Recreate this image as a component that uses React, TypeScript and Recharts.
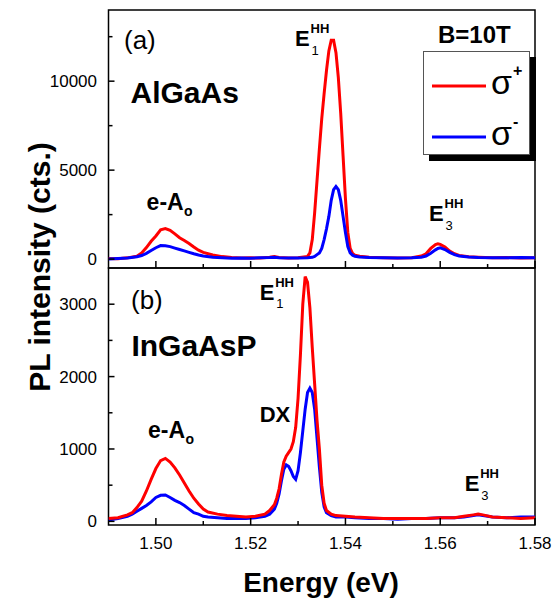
import React from 'react';
import { LineChart, Line, XAxis, YAxis, ReferenceArea, Legend } from 'recharts';

// ---- Panel (a): AlGaAs ----
const energyA = [
  1.490, 1.492, 1.494, 1.496, 1.497, 1.498, 1.499, 1.500, 1.501, 1.502,
  1.503, 1.504, 1.505, 1.506, 1.507, 1.508, 1.509, 1.510, 1.512, 1.514,
  1.516, 1.518, 1.520, 1.522, 1.524, 1.525, 1.526, 1.528, 1.530, 1.532,
  1.5325, 1.533, 1.5335, 1.534, 1.5345, 1.535, 1.5355, 1.536, 1.5365, 1.537,
  1.5375, 1.538, 1.5385, 1.539, 1.5395, 1.540, 1.5405, 1.541, 1.5415, 1.542,
  1.543, 1.545, 1.548, 1.551, 1.554, 1.556, 1.557, 1.558, 1.559, 1.5595,
  1.560, 1.561, 1.562, 1.563, 1.564, 1.566, 1.568, 1.571, 1.574, 1.577,
  1.580,
];
const sigmaPlusA = [
  30, 20, 70, 160, 350, 650, 1000, 1300, 1650, 1720,
  1620, 1420, 1200, 1050, 880, 680, 500, 380, 230, 140,
  90, 60, 70, 60, 100, 140, 90, 60, 70, 150,
  350, 1100, 2600, 4400, 6200, 7900, 9300, 10600, 11700, 12300,
  12300, 11600, 10200, 8200, 5800, 3400, 1500, 600, 320, 220,
  160, 110, 80, 60, 80, 170, 300, 600, 820, 860,
  830, 680, 450, 300, 210, 130, 100, 70, 90, 60,
  80,
];
const sigmaMinusA = [
  10, 30, 60, 130, 200, 320, 480, 640, 760, 750,
  700, 620, 540, 460, 380, 300, 230, 170, 100, 70,
  50, 60, 50, 70, 90, 110, 80, 60, 60, 80,
  90, 100, 150, 250, 350, 600, 1100, 1700, 2400, 3300,
  3900, 4080, 3900, 3300, 2400, 1500, 700, 350, 220, 160,
  120, 90, 70, 60, 70, 110, 170, 330, 520, 600,
  630, 540, 380, 250, 180, 120, 90, 80, 70, 90,
  70,
];

// ---- Panel (b): InGaAsP ----
const energyB = [
  1.490, 1.492, 1.494, 1.495, 1.496, 1.497, 1.498, 1.499, 1.500, 1.501,
  1.502, 1.503, 1.504, 1.505, 1.506, 1.507, 1.508, 1.509, 1.510, 1.511,
  1.513, 1.515, 1.517, 1.519, 1.521, 1.523, 1.524, 1.525, 1.5255, 1.526,
  1.5265, 1.527, 1.5275, 1.528, 1.5285, 1.529, 1.5295, 1.530, 1.5305, 1.531,
  1.5315, 1.532, 1.5325, 1.533, 1.5335, 1.534, 1.5345, 1.535, 1.5355, 1.536,
  1.537, 1.538, 1.540, 1.542, 1.545, 1.548, 1.551, 1.554, 1.557, 1.560,
  1.563, 1.565, 1.567, 1.568, 1.569, 1.571, 1.574, 1.577, 1.580,
];
const sigmaPlusB = [
  40, 50, 90, 120, 190, 280, 420, 580, 730, 840,
  870, 820, 740, 640, 530, 420, 320, 240, 170, 130,
  100, 80, 70, 60, 70, 100, 150, 230, 320, 450,
  650, 820, 900, 950, 1000, 1100, 1300, 1700, 2300, 3000,
  3380, 3300, 2950, 2400, 1900, 1400, 1000, 500, 250, 150,
  100, 80, 70, 60, 50, 40, 40, 40, 40, 50,
  50, 70, 90, 100, 90, 60, 50, 40, 50,
];
const sigmaMinusB = [
  20, 40, 70, 100, 140, 180, 220, 270, 330, 360,
  365, 330, 290, 260, 220, 170, 120, 100, 70, 60,
  50, 40, 40, 40, 50, 70, 100, 170, 250, 380,
  560, 720, 780, 760, 700, 620, 580, 700, 950, 1250,
  1550, 1780, 1840, 1780, 1550, 1150, 750, 400, 200, 120,
  80, 60, 60, 50, 40, 40, 30, 40, 40, 50,
  50, 60, 80, 90, 80, 60, 50, 60, 60,
];

// ---- Axes ----
const energyDomain = [1.49, 1.58];
const energyTicks = [1.50, 1.51, 1.52, 1.53, 1.54, 1.55, 1.56, 1.57, 1.58];
const energyLabelTicks = [1.50, 1.52, 1.54, 1.56, 1.58];
const intensityDomainA = [-500, 14000];
const intensityTicksA = [0, 2500, 5000, 7500, 10000, 12500];
const intensityLabelTicksA = [0, 5000, 10000];
const intensityDomainB = [-50, 3500];
const intensityTicksB = [0, 500, 1000, 1500, 2000, 2500, 3000];
const intensityLabelTicksB = [0, 1000, 2000, 3000];

const seriesNames = { plus: 'σ+', minus: 'σ-' };
const RED = '#ff0000';
const BLUE = '#0000ff';
const FONT = '"Liberation Sans", Arial, Helvetica, sans-serif';

const rowsA = energyA.map((e, i) => ({ e, plus: sigmaPlusA[i], minus: sigmaMinusA[i] }));
const rowsB = energyB.map((e, i) => ({ e, plus: sigmaPlusB[i], minus: sigmaMinusB[i] }));

const isIn = (list: number[], v: number) => list.some((l) => Math.abs(l - v) < 1e-6);

// Inward-pointing ticks on the bottom axis; labels only on the lower panel.
const makeEnergyTick = (showLabels: boolean) => (props: any) => {
  const { x, y, payload } = props;
  const v = payload.value as number;
  const major = isIn(energyLabelTicks, v);
  return (
    <g>
      <line x1={x} x2={x} y1={y} y2={y - (major ? 7 : 4)} stroke="#000" strokeWidth={1.5} />
      {showLabels && major && (
        <text x={x} y={y + 24} textAnchor="middle" fontSize={17} fontFamily={FONT} fill="#000">
          {v.toFixed(2)}
        </text>
      )}
    </g>
  );
};

// Inward-pointing ticks on the left axis with labels outside.
const makeIntensityTick = (labels: number[]) => (props: any) => {
  const { x, y, payload } = props;
  const v = payload.value as number;
  const major = isIn(labels, v);
  return (
    <g>
      <line x1={x} x2={x + (major ? 6 : 4)} y1={y} y2={y} stroke="#000" strokeWidth={1.5} />
      {major && (
        <text x={x - 11.5} y={y + 6} textAnchor="end" fontSize={17} fontFamily={FONT} fill="#000">
          {String(v)}
        </text>
      )}
    </g>
  );
};

const LegendBox = (props: any) => {
  const items = props.payload || [];
  return (
    <div
      style={{
        width: 107,
        height: 104,
        boxSizing: 'border-box',
        border: '1px solid #555',
        background: '#fff',
        boxShadow: '6px 6px 0 #000',
      }}
    >
      <svg width={105} height={102} style={{ display: 'block' }}>
        {items.map((it: any, i: number) => {
          const cy = 34 + i * 51;
          const label = String(it.value);
          return (
            <g key={label}>
              <line x1={8} x2={62} y1={cy} y2={cy} stroke={it.color} strokeWidth={3} />
              <text x={67} y={cy + 8} fontSize={34} fontFamily={FONT} fill="#000">
                {label.charAt(0)}
              </text>
              <text x={89} y={cy - 10} fontSize={16} fontWeight="bold" fontFamily={FONT} fill="#000">
                {label.slice(1)}
              </text>
            </g>
          );
        })}
      </svg>
    </div>
  );
};

// Peak label such as E with a subscript index and HH superscript.
const PeakLabel = ({ x, y, sub }: { x: number; y: number; sub: string }) => (
  <g fontFamily={FONT} fill="#000">
    <text x={x} y={y} fontSize={22} fontWeight="bold">E</text>
    <text x={x + 15.5} y={y - 13} fontSize={13} fontWeight="bold">HH</text>
    <text x={x + 16.5} y={y + 8.5} fontSize={13}>{sub}</text>
  </g>
);

const AcceptorLabel = ({ x, y }: { x: number; y: number }) => (
  <g fontFamily={FONT} fill="#000" fontWeight="bold">
    <text x={x} y={y} fontSize={23}>e-A</text>
    <text x={x + 37.5} y={y + 5.5} fontSize={14}>o</text>
  </g>
);

export default function App() {
  return (
    <div style={{ position: 'absolute', left: 0, top: 0, width: 554, height: 602, background: '#fff' }}>
      <div style={{ position: 'absolute', left: 0, top: 0 }}>
        <LineChart width={554} height={270} data={rowsA} margin={{ top: 10, right: 19, bottom: 0, left: 0 }}>
          <XAxis
            dataKey="e"
            type="number"
            domain={energyDomain}
            allowDataOverflow
            ticks={energyTicks}
            interval={0}
            height={2}
            axisLine={false}
            tickLine={false}
            tickSize={0}
            tickMargin={0}
            tick={makeEnergyTick(false)}
          />
          <YAxis
            type="number"
            domain={intensityDomainA}
            allowDataOverflow
            ticks={intensityTicksA}
            interval={0}
            width={108.5}
            axisLine={false}
            tickLine={false}
            tickSize={0}
            tickMargin={0}
            tick={makeIntensityTick(intensityLabelTicksA)}
          />
          <Line
            dataKey="plus"
            name={seriesNames.plus}
            type="linear"
            stroke={RED}
            strokeWidth={3}
            dot={false}
            isAnimationActive={false}
          />
          <Line
            dataKey="minus"
            name={seriesNames.minus}
            type="linear"
            stroke={BLUE}
            strokeWidth={3}
            dot={false}
            isAnimationActive={false}
          />
          <ReferenceArea
            x1={energyDomain[0]}
            x2={energyDomain[1]}
            y1={intensityDomainA[0]}
            y2={intensityDomainA[1]}
            fill="none"
            stroke="#000"
            strokeWidth={1.5}
          />
          <Legend
            layout="horizontal"
            verticalAlign="middle"
            align="center"
            content={LegendBox}
            wrapperStyle={{ left: 423, top: 51, width: 107, height: 104 }}
          />
        </LineChart>
      </div>

      <div style={{ position: 'absolute', left: 0, top: 266 }}>
        <LineChart width={554} height={336} data={rowsB} margin={{ top: 2, right: 19, bottom: 0, left: 0 }}>
          <XAxis
            dataKey="e"
            type="number"
            domain={energyDomain}
            allowDataOverflow
            ticks={energyTicks}
            interval={0}
            height={77}
            axisLine={false}
            tickLine={false}
            tickSize={0}
            tickMargin={0}
            tick={makeEnergyTick(true)}
          />
          <YAxis
            type="number"
            domain={intensityDomainB}
            allowDataOverflow
            ticks={intensityTicksB}
            interval={0}
            width={108.5}
            axisLine={false}
            tickLine={false}
            tickSize={0}
            tickMargin={0}
            tick={makeIntensityTick(intensityLabelTicksB)}
          />
          <Line
            dataKey="minus"
            name={seriesNames.minus}
            type="linear"
            stroke={BLUE}
            strokeWidth={3}
            dot={false}
            isAnimationActive={false}
          />
          <Line
            dataKey="plus"
            name={seriesNames.plus}
            type="linear"
            stroke={RED}
            strokeWidth={3}
            dot={false}
            isAnimationActive={false}
          />
          <ReferenceArea
            x1={energyDomain[0]}
            x2={energyDomain[1]}
            y1={intensityDomainB[0]}
            y2={intensityDomainB[1]}
            fill="none"
            stroke="#000"
            strokeWidth={1.5}
          />
        </LineChart>
      </div>

      <svg
        width={554}
        height={602}
        style={{ position: 'absolute', left: 0, top: 0, pointerEvents: 'none' }}
      >
        <g fontFamily={FONT} fill="#000">
          {/* panel (a) */}
          <text x={124} y={49} fontSize={26}>(a)</text>
          <text x={130.5} y={102.5} fontSize={30} fontWeight="bold">AlGaAs</text>
          <text x={438} y={42.5} fontSize={24} fontWeight="bold">B=10T</text>
          {/* panel (b) */}
          <text x={131} y={309} fontSize={26}>(b)</text>
          <text x={131.4} y={356} fontSize={30} fontWeight="bold">InGaAsP</text>
          <text x={259.7} y={422} fontSize={22} fontWeight="bold">DX</text>
          {/* axis titles */}
          <text
            x={50}
            y={267}
            transform="rotate(-90 50 267)"
            textAnchor="middle"
            fontSize={30}
            fontWeight="bold"
          >
            PL intensity (cts.)
          </text>
          <text x={321} y={592} textAnchor="middle" fontSize={28} fontWeight="bold">
            Energy (eV)
          </text>
        </g>
        <PeakLabel x={295} y={46} sub="1" />
        <PeakLabel x={429} y={221} sub="3" />
        <AcceptorLabel x={146.6} y={210} />
        <PeakLabel x={259.7} y={299.7} sub="1" />
        <PeakLabel x={464.7} y={491} sub="3" />
        <AcceptorLabel x={148} y={438} />
      </svg>
    </div>
  );
}
